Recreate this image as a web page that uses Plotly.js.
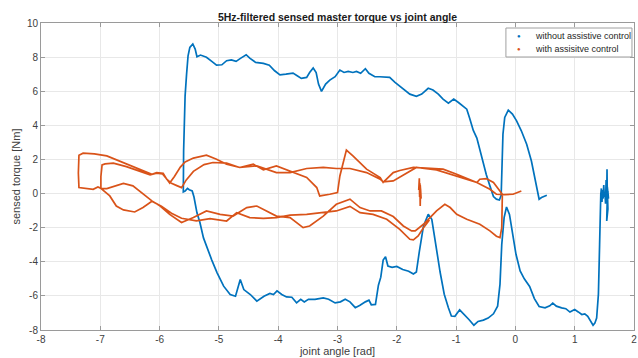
<!DOCTYPE html>
<html>
<head>
<meta charset="utf-8">
<script src="https://cdn.plot.ly/plotly-3.0.1.min.js"></script>
<style>html,body{margin:0;padding:0;background:#fff;}#chart{width:638px;height:358px;}</style>
</head>
<body>
<div id="chart"></div>
<script>
// ---- data: [joint angle (rad), sensed torque (Nm)] in time order ----
const seriesNames = ["without assistive control", "with assisitve control"];
const xTicks = [-8, -7, -6, -5, -4, -3, -2, -1, 0, 1, 2];
const yTicks = [-8, -6, -4, -2, 0, 2, 4, 6, 8, 10];

// blue: without assistive control
const blueStartSpike = [[1.56,0.10],[1.57,-0.30],[1.55,0.40],[1.56,-0.90],[1.54,-1.61],[1.55,-0.20],[1.545,1.43],[1.54,-0.40],[1.53,0.80],[1.52,-0.60],[1.51,0.10],[1.50,-0.20],[1.49,0.50],[1.48,-0.30],[1.47,0.20],[1.46,-0.50],[1.45,0.30],[1.44,-0.04]];
const blueLowerPath = [[1.42,-2.98],[1.40,-5.90],[1.37,-7.30],[1.34,-7.60],[1.31,-7.72],[1.27,-7.48],[1.22,-7.20],[1.17,-7.05],[1.12,-7.09],[1.06,-6.94],[1.00,-6.80],[0.92,-6.95],[0.85,-6.75],[0.78,-6.70],[0.69,-6.60],[0.63,-6.42],[0.58,-6.58],[0.50,-6.70],[0.40,-6.62],[0.32,-6.16],[0.24,-5.45],[0.15,-5.00],[0.08,-4.54],[0.01,-3.56],[-0.05,-2.39],[-0.10,-1.22],[-0.15,-0.79],[-0.19,-1.41],[-0.23,-2.98],[-0.26,-5.33],[-0.30,-6.60],[-0.37,-7.05],[-0.46,-7.30],[-0.54,-7.42],[-0.63,-7.50],[-0.70,-7.72],[-0.78,-7.40],[-0.86,-7.12],[-0.94,-6.82],[-1.02,-7.20],[-1.08,-7.18],[-1.13,-6.70],[-1.20,-5.90],[-1.27,-4.60],[-1.33,-3.27],[-1.41,-1.51],[-1.47,-1.22],[-1.55,-1.90],[-1.62,-3.40],[-1.67,-4.60],[-1.72,-4.72],[-1.80,-4.55],[-1.90,-4.45],[-2.00,-4.27],[-2.08,-4.33],[-2.15,-4.25],[-2.19,-3.71],[-2.23,-3.90],[-2.27,-4.90],[-2.31,-5.37],[-2.36,-6.50],[-2.43,-6.52],[-2.47,-6.25],[-2.53,-6.35],[-2.62,-6.55],[-2.70,-6.69],[-2.79,-6.35],[-2.87,-6.20],[-2.95,-6.35],[-3.04,-6.41],[-3.15,-6.20],[-3.24,-6.12],[-3.38,-6.20],[-3.49,-6.20],[-3.56,-6.35],[-3.62,-6.20],[-3.69,-6.41],[-3.77,-6.08],[-3.86,-6.06],[-3.94,-5.92],[-4.02,-5.71],[-4.08,-5.92],[-4.14,-5.86],[-4.24,-6.02],[-4.36,-6.31],[-4.47,-5.92],[-4.58,-5.63],[-4.64,-5.04],[-4.72,-6.02],[-4.81,-5.92],[-4.92,-5.43],[-5.03,-4.65],[-5.12,-3.90],[-5.20,-3.20],[-5.26,-2.60],[-5.32,-1.70],[-5.37,-1.13],[-5.42,-0.20],[-5.45,0.15],[-5.50,0.22],[-5.53,0.30],[-5.57,0.15],[-5.60,0.10]];
const blueUpperPath = [[-5.595,2.50],[-5.57,5.73],[-5.545,7.00],[-5.52,8.08],[-5.49,8.57],[-5.44,8.77],[-5.40,8.47],[-5.37,8.02],[-5.31,8.12],[-5.21,7.99],[-5.12,7.75],[-5.04,7.53],[-4.95,7.55],[-4.87,7.79],[-4.79,7.84],[-4.71,7.75],[-4.63,7.94],[-4.54,8.14],[-4.48,7.94],[-4.38,7.69],[-4.25,7.63],[-4.15,7.53],[-4.06,7.20],[-3.97,6.96],[-3.87,7.00],[-3.75,7.06],[-3.68,6.91],[-3.61,6.75],[-3.52,6.81],[-3.47,7.10],[-3.41,7.36],[-3.36,7.10],[-3.32,6.42],[-3.27,5.99],[-3.20,6.42],[-3.13,6.65],[-3.04,6.85],[-2.96,7.24],[-2.89,7.10],[-2.82,7.16],[-2.74,7.10],[-2.68,7.16],[-2.61,7.05],[-2.53,7.32],[-2.47,7.05],[-2.37,6.85],[-2.29,6.85],[-2.20,6.85],[-2.12,6.81],[-2.03,6.52],[-1.92,6.22],[-1.78,5.83],[-1.67,5.70],[-1.58,5.83],[-1.47,6.17],[-1.39,6.07],[-1.30,5.83],[-1.22,5.54],[-1.13,5.30],[-1.04,5.54],[-0.96,5.34],[-0.88,5.14],[-0.82,4.95],[-0.77,4.40],[-0.71,3.70],[-0.65,3.25],[-0.59,2.40],[-0.54,1.75],[-0.49,1.10],[-0.43,0.45],[-0.37,-0.18],[-0.32,-0.33],[-0.27,-0.38],[-0.24,-0.10],[-0.225,1.91],[-0.21,3.48],[-0.18,4.46],[-0.12,4.89],[-0.05,4.66],[0.02,4.26],[0.10,3.68],[0.19,2.89],[0.27,1.91],[0.33,0.94],[0.37,0.15],[0.40,-0.33],[0.44,-0.23],[0.50,-0.14],[0.53,-0.10]];

// orange: with assistive control
const orangeLowerB = [[-1.45,-1.55],[-1.55,-2.00],[-1.64,-2.49],[-1.72,-2.72],[-1.78,-2.68],[-1.95,-2.10],[-2.17,-1.51],[-2.40,-1.22],[-2.62,-1.12],[-2.79,-0.75],[-3.02,-1.02],[-3.24,-1.12],[-3.52,-1.22],[-3.80,-1.27],[-4.03,-1.41],[-4.25,-1.45],[-4.48,-1.41],[-4.70,-1.12],[-4.87,-1.61],[-5.15,-1.47],[-5.38,-1.60],[-5.63,-1.45],[-5.80,-1.15],[-5.97,-0.75],[-6.13,-0.45]];
const orangeInnerLoop = [[-6.28,-0.82],[-6.42,-1.08],[-6.61,-0.96],[-6.73,-0.73],[-6.84,-0.14],[-6.97,0.25],[-6.99,0.30],[-6.99,1.00],[-6.97,1.68],[-6.92,1.74],[-6.78,1.78],[-6.56,1.58],[-6.33,1.33],[-6.16,1.10],[-6.05,1.20],[-5.95,1.15],[-5.88,0.85],[-5.83,0.62],[-5.75,1.00],[-5.65,1.55],[-5.57,1.85],[-5.43,2.08]];
const orangeUpperC = [[-5.21,2.25],[-5.04,2.01],[-4.87,1.72],[-4.65,1.53],[-4.42,1.72],[-4.25,1.39],[-4.03,1.62],[-3.86,1.39],[-3.75,1.23],[-3.52,0.94],[-3.35,0.35],[-3.30,-0.14],[-3.13,-0.04],[-3.00,0.06],[-2.96,1.03],[-2.85,2.55],[-2.74,2.21],[-2.62,1.82],[-2.51,1.43],[-2.28,0.94],[-2.23,0.65],[-2.06,1.23],[-1.95,1.35],[-1.72,1.53],[-1.50,1.47],[-1.22,1.43],[-0.99,1.13],[-0.77,0.84],[-0.65,0.65],[-0.60,0.84],[-0.49,0.88],[-0.37,0.65],[-0.26,0.15],[-0.22,-0.04]];
const orangeReturnR3 = [[-0.23,-2.00],[-0.26,-2.58],[-0.32,-2.50],[-0.43,-2.19],[-0.60,-1.80],[-0.82,-1.51],[-0.99,-1.22],[-1.10,-0.82],[-1.19,-0.63],[-1.33,-1.02],[-1.55,-1.80],[-1.69,-2.19],[-1.75,-2.19],[-1.89,-1.90],[-2.06,-1.35],[-2.26,-1.02],[-2.45,-1.02],[-2.62,-0.82]];
const orangeLowerA = [[-2.79,-0.33],[-3.02,-0.63],[-3.24,-1.32],[-3.47,-1.90],[-3.58,-2.00],[-3.80,-1.41],[-4.03,-1.32],[-4.20,-1.02],[-4.36,-0.73],[-4.53,-0.82],[-4.76,-1.32],[-4.98,-1.22],[-5.21,-1.02],[-5.43,-1.41],[-5.63,-1.70],[-5.83,-1.22],[-5.99,-0.73],[-6.13,-0.43],[-6.28,-0.04],[-6.45,0.45],[-6.61,0.59],[-6.89,0.29],[-6.98,0.29],[-7.04,0.39],[-7.12,0.25],[-7.30,0.32],[-7.36,0.35]];
const orangeOuterLoop = [[-7.37,1.20],[-7.36,2.25],[-7.29,2.37],[-7.10,2.33],[-6.89,2.21],[-6.61,1.82],[-6.33,1.43],[-6.13,1.13],[-6.05,1.23],[-5.94,1.19],[-5.88,0.84],[-5.80,0.60],[-5.70,0.45],[-5.63,0.35],[-5.55,0.80],[-5.43,1.30],[-5.25,1.70],[-5.10,1.82]];
const orangeUpperD = [[-4.87,1.78],[-4.65,1.53],[-4.36,1.62],[-4.20,1.43],[-4.03,1.23],[-3.80,1.23],[-3.69,1.33],[-3.52,1.47],[-3.24,1.53],[-3.02,1.47],[-2.79,1.47],[-2.51,1.23],[-2.28,0.84],[-2.23,0.68],[-2.06,0.74],[-1.83,1.23],[-1.67,1.53],[-1.33,1.39],[-0.99,1.03],[-0.65,0.65],[-0.43,0.25],[-0.32,-0.04],[-0.18,-0.06],[-0.04,-0.04],[0.10,0.15]];
const orangeSpike = [[-1.63,0.20],[-1.62,0.90],[-1.615,-0.20],[-1.61,0.60],[-1.605,-0.73],[-1.60,0.30],[-1.59,-0.30],[-1.605,0.50],[-1.60,-0.10]];

// ---- build traces ----
function join(segments, gapAfter) {
  const x = [], y = [];
  segments.forEach((seg, i) => {
    seg.forEach(p => { x.push(p[0]); y.push(p[1]); });
    if (gapAfter && gapAfter.includes(i)) { x.push(null); y.push(null); }
  });
  return {x, y};
}
const blue = join([blueStartSpike, blueLowerPath, blueUpperPath]);
const orange = join([orangeLowerB, orangeInnerLoop, orangeUpperC, orangeReturnR3, orangeLowerA, orangeOuterLoop, orangeUpperD, orangeSpike], [6]);

const BLUE = '#0072BD', ORANGE = '#D95319';
const traces = [
  {x: blue.x, y: blue.y, mode: 'lines', line: {color: BLUE, width: 1.7}, name: seriesNames[0], showlegend: false, connectgaps: false, hoverinfo: 'skip'},
  {x: orange.x, y: orange.y, mode: 'lines', line: {color: ORANGE, width: 1.7}, name: seriesNames[1], showlegend: false, connectgaps: false, hoverinfo: 'skip'}
];

// compact MATLAB-style legend box (top right, inside the axes)
const legendColors = [BLUE, ORANGE];
const legendRows = [0.9577, 0.9153];
const annotations = [];
seriesNames.forEach((name, i) => {
  annotations.push({xref: 'paper', yref: 'paper', x: 0.806, y: legendRows[i], text: '●', showarrow: false,
    font: {size: 6, color: legendColors[i]}, xanchor: 'center', yanchor: 'middle'});
  annotations.push({xref: 'paper', yref: 'paper', x: 0.8305, y: legendRows[i], text: name, showarrow: false,
    font: {size: 9, color: '#262626'}, xanchor: 'left', yanchor: 'middle'});
});
const shapes = [{type: 'rect', xref: 'paper', yref: 'paper', x0: 0.784, x1: 0.9966, y0: 0.8893, y1: 0.9837,
  line: {color: '#a0a0a0', width: 1}, fillcolor: '#ffffff', layer: 'above'}];

const axisCommon = {
  showgrid: true, gridcolor: '#e8e8e8', gridwidth: 1, zeroline: false,
  showline: true, linecolor: '#9a9a9a', linewidth: 1, mirror: 'ticks',
  ticks: 'inside', ticklen: 4, tickcolor: '#9a9a9a',
  tickfont: {family: 'Liberation Sans, Arial, sans-serif', size: 10, color: '#404040'},
  automargin: false
};
const layout = {
  width: 638, height: 358,
  margin: {l: 41, r: 4, t: 23, b: 28},
  paper_bgcolor: '#fff', plot_bgcolor: '#fff',
  font: {family: 'Liberation Sans, Arial, sans-serif', color: '#262626'},
  title: {text: '<b>5Hz-filtered sensed master torque vs joint angle</b>', font: {size: 10.5, color: '#1a1a1a'}, x: 0.529, xanchor: 'center', y: 0.953, yanchor: 'middle'},
  xaxis: Object.assign({}, axisCommon, {range: [-8, 2], tickvals: xTicks, ticktext: xTicks.map(String),
    title: {text: 'joint angle [rad]', font: {size: 11, color: '#404040'}, standoff: 2}}),
  yaxis: Object.assign({}, axisCommon, {range: [-8, 10], tickvals: yTicks, ticktext: yTicks.map(String),
    title: {text: 'sensed torque [Nm]', font: {size: 11, color: '#404040'}, standoff: 4}}),
  shapes: shapes,
  annotations: annotations,
  showlegend: false
};
Plotly.newPlot('chart', traces, layout, {staticPlot: true, displayModeBar: false});
</script>
</body>
</html>
